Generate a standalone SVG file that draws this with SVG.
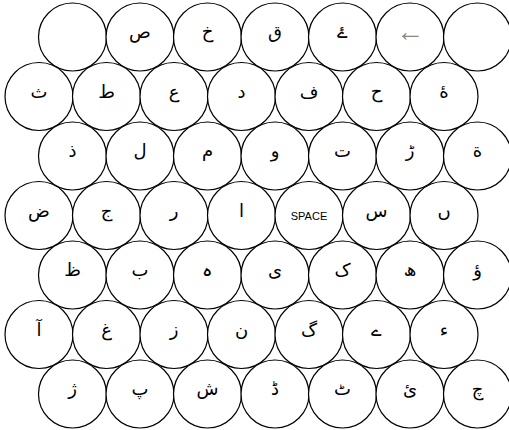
<svg xmlns="http://www.w3.org/2000/svg" width="509" height="430" viewBox="0 0 509 430">
<style>
circle{fill:#fff;stroke:#000;stroke-width:1.2}
text{font-family:"DejaVu Sans",sans-serif;font-size:18px;text-anchor:middle;fill:#000}
.sp{font-family:"Liberation Sans",Arial,sans-serif;font-size:11px}
.ar{font-family:"Liberation Sans",Arial,sans-serif;fill:#888;font-size:28px}
</style>
<rect width="509" height="430" fill="#fff"/>
<g id="connectors"/>
<g id="row1">
<g id="k1_1"><circle cx="72.5" cy="37" r="34"/></g>
<g id="k1_2"><circle cx="140" cy="37" r="34"/><text x="140" y="38">ص</text></g>
<g id="k1_3"><circle cx="207.5" cy="37" r="34"/><text x="207.5" y="38">خ</text></g>
<g id="k1_4"><circle cx="275" cy="37" r="34"/><text x="275" y="38">ق</text></g>
<g id="k1_5"><circle cx="342.5" cy="37" r="34"/><text x="342.5" y="38">ۓ</text></g>
<g id="k1_6"><circle cx="410" cy="37" r="34"/><text class="ar" x="410" y="41">←</text></g>
<g id="k1_7"><circle cx="477.5" cy="37" r="34"/></g>
</g>
<g id="row2">
<g id="k2_1"><circle cx="39" cy="96.5" r="34"/><text x="39" y="97.5">ث</text></g>
<g id="k2_2"><circle cx="106.5" cy="96.5" r="34"/><text x="106.5" y="97.5">ط</text></g>
<g id="k2_3"><circle cx="174" cy="96.5" r="34"/><text x="174" y="97.5">ع</text></g>
<g id="k2_4"><circle cx="241.5" cy="96.5" r="34"/><text x="241.5" y="97.5">د</text></g>
<g id="k2_5"><circle cx="309" cy="96.5" r="34"/><text x="309" y="97.5">ف</text></g>
<g id="k2_6"><circle cx="376.5" cy="96.5" r="34"/><text x="376.5" y="97.5">ح</text></g>
<g id="k2_7"><circle cx="444" cy="96.5" r="34"/><text x="444" y="97.5">ۀ</text></g>
</g>
<g id="row3">
<g id="k3_1"><circle cx="72.5" cy="156" r="34"/><text x="72.5" y="157">ذ</text></g>
<g id="k3_2"><circle cx="140" cy="156" r="34"/><text x="140" y="157">ل</text></g>
<g id="k3_3"><circle cx="207.5" cy="156" r="34"/><text x="207.5" y="157">م</text></g>
<g id="k3_4"><circle cx="275" cy="156" r="34"/><text x="275" y="157">و</text></g>
<g id="k3_5"><circle cx="342.5" cy="156" r="34"/><text x="342.5" y="157">ت</text></g>
<g id="k3_6"><circle cx="410" cy="156" r="34"/><text x="410" y="157">ڑ</text></g>
<g id="k3_7"><circle cx="477.5" cy="156" r="34"/><text x="477.5" y="157">ة</text></g>
</g>
<g id="row4">
<g id="k4_1"><circle cx="39" cy="215.5" r="34"/><text x="39" y="216.5">ض</text></g>
<g id="k4_2"><circle cx="106.5" cy="215.5" r="34"/><text x="106.5" y="216.5">ج</text></g>
<g id="k4_3"><circle cx="174" cy="215.5" r="34"/><text x="174" y="216.5">ر</text></g>
<g id="k4_4"><circle cx="241.5" cy="215.5" r="34"/><text x="241.5" y="216.5">ا</text></g>
<g id="k4_5"><circle cx="309" cy="215.5" r="34"/><text class="sp" x="309" y="219.5">SPACE</text></g>
<g id="k4_6"><circle cx="376.5" cy="215.5" r="34"/><text x="376.5" y="216.5">س</text></g>
<g id="k4_7"><circle cx="444" cy="215.5" r="34"/><text x="444" y="216.5">ں</text></g>
</g>
<g id="row5">
<g id="k5_1"><circle cx="72.5" cy="275" r="34"/><text x="72.5" y="276">ظ</text></g>
<g id="k5_2"><circle cx="140" cy="275" r="34"/><text x="140" y="276">ب</text></g>
<g id="k5_3"><circle cx="207.5" cy="275" r="34"/><text x="207.5" y="276">ہ</text></g>
<g id="k5_4"><circle cx="275" cy="275" r="34"/><text x="275" y="276">ی</text></g>
<g id="k5_5"><circle cx="342.5" cy="275" r="34"/><text x="342.5" y="276">ک</text></g>
<g id="k5_6"><circle cx="410" cy="275" r="34"/><text x="410" y="276">ھ</text></g>
<g id="k5_7"><circle cx="477.5" cy="275" r="34"/><text x="477.5" y="276">ؤ</text></g>
</g>
<g id="row6">
<g id="k6_1"><circle cx="39" cy="334.5" r="34"/><text x="39" y="335.5">آ</text></g>
<g id="k6_2"><circle cx="106.5" cy="334.5" r="34"/><text x="106.5" y="335.5">غ</text></g>
<g id="k6_3"><circle cx="174" cy="334.5" r="34"/><text x="174" y="335.5">ز</text></g>
<g id="k6_4"><circle cx="241.5" cy="334.5" r="34"/><text x="241.5" y="335.5">ن</text></g>
<g id="k6_5"><circle cx="309" cy="334.5" r="34"/><text x="309" y="335.5">گ</text></g>
<g id="k6_6"><circle cx="376.5" cy="334.5" r="34"/><text x="376.5" y="335.5">ے</text></g>
<g id="k6_7"><circle cx="444" cy="334.5" r="34"/><text x="444" y="335.5">ء</text></g>
</g>
<g id="row7">
<g id="k7_1"><circle cx="72.5" cy="394" r="34"/><text x="72.5" y="395">ژ</text></g>
<g id="k7_2"><circle cx="140" cy="394" r="34"/><text x="140" y="395">پ</text></g>
<g id="k7_3"><circle cx="207.5" cy="394" r="34"/><text x="207.5" y="395">ش</text></g>
<g id="k7_4"><circle cx="275" cy="394" r="34"/><text x="275" y="395">ڈ</text></g>
<g id="k7_5"><circle cx="342.5" cy="394" r="34"/><text x="342.5" y="395">ٹ</text></g>
<g id="k7_6"><circle cx="410" cy="394" r="34"/><text x="410" y="395">ئ</text></g>
<g id="k7_7"><circle cx="477.5" cy="394" r="34"/><text x="477.5" y="395">چ</text></g>
</g>
</svg>
